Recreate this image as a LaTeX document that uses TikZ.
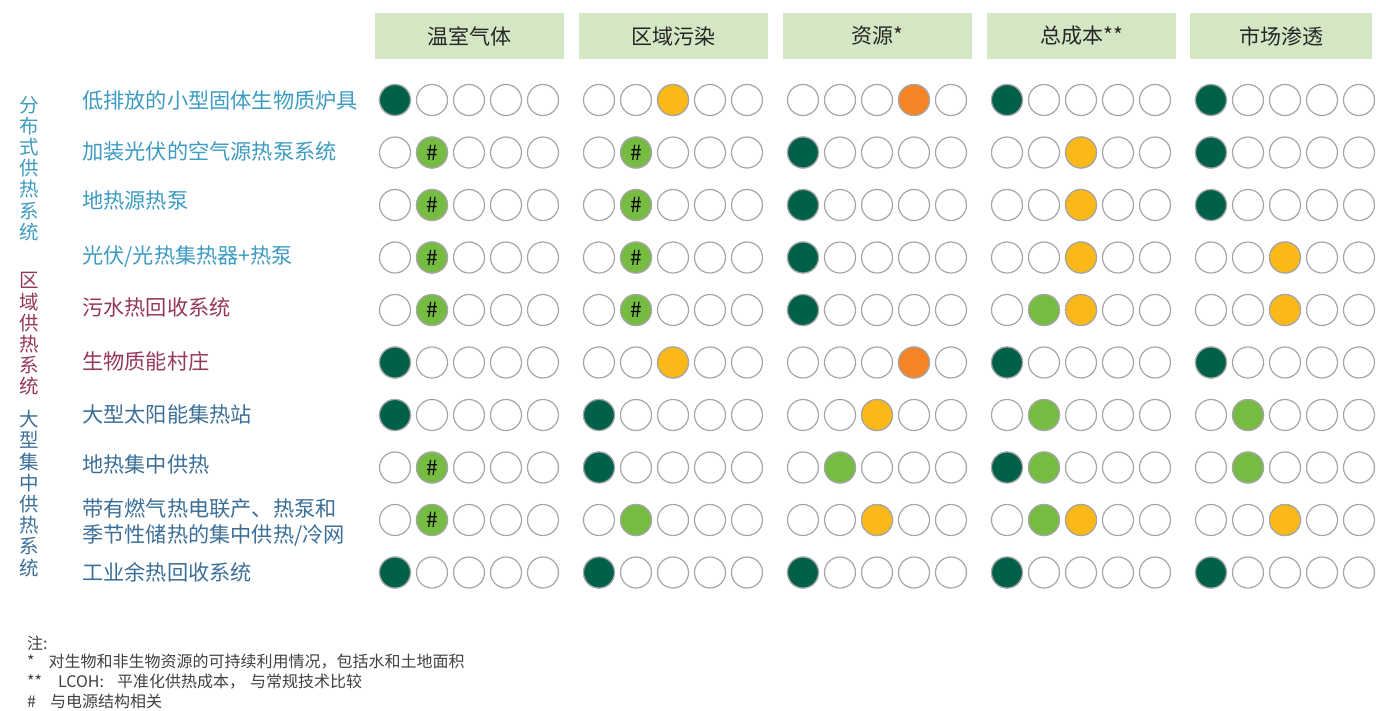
\documentclass[tikz,border=0pt]{standalone}
\usepackage{fontspec}
\setmainfont{Noto Sans CJK SC}
\usepackage{tikz}
\usetikzlibrary{calc}

\definecolor{dkgreen}{HTML}{00604A}
\definecolor{ltgreen}{HTML}{76BC43}
\definecolor{amber}{HTML}{FBB919}
\definecolor{tangerine}{HTML}{F58426}
\definecolor{headfill}{HTML}{D3E7C5}
\definecolor{ringgray}{HTML}{A6A6A6}
\definecolor{distblue}{HTML}{3D9BC2}
\definecolor{distred}{HTML}{96375C}
\definecolor{bigblue}{HTML}{3C6F98}
\definecolor{notegray}{HTML}{404040}

\tikzset{
  dot/.style={circle, draw=ringgray, line width=1.2pt, fill=white, minimum size=31pt, inner sep=0pt},
  dk/.style={dot, fill=dkgreen},
  lg/.style={dot, fill=ltgreen},
  lh/.style={dot, fill=ltgreen, label={[inner sep=0pt, font=\fontsize{21}{21}\selectfont]center:\#}},
  yl/.style={dot, fill=amber},
  og/.style={dot, fill=tangerine},
  head/.style={fill=headfill, minimum width=189pt, minimum height=46pt, inner sep=0pt,
    font=\fontsize{21}{21}\selectfont, text=black!85},
  tech/.style={anchor=west, align=left, inner sep=0pt, font=\fontsize{21.2}{26}\selectfont},
  group/.style={align=center, inner sep=0pt, font=\fontsize{19.5}{21.2}\selectfont},
  note/.style={anchor=west, inner sep=0pt, text=notegray, font=\fontsize{16}{16}\selectfont}
}

\begin{document}
\begin{tikzpicture}[x=1pt, y=-1pt]
    \useasboundingbox (0,0) rectangle (1376,710);
    % column heads
    \node[head] (h1) at (469,36) {温室气体};
    \node[head] (h2) at (673.5,36) {区域污染};
    \node[head] (h3) at (877.5,36) {资源*};
    \node[head] (h4) at (1081.5,36) {总成本**};
    \node[head, minimum width=182pt] (h5) at (1281,36) {市场渗透};
    % system groups, written top to bottom
    \node[group, text=distblue] (g1) at (29,168.5) {分\\布\\式\\供\\热\\系\\统};
    \node[group, text=distred] (g2) at (29,334) {区\\域\\供\\热\\系\\统};
    \node[group, text=bigblue] (g3) at (29,493.5) {大\\型\\集\\中\\供\\热\\系\\统};
    % technologies
    \node[tech, text=distblue] (t1) at (82,100) {低排放的小型固体生物质炉具};
    \node[tech, text=distblue] (t2) at (82,151) {加装光伏的空气源热泵系统};
    \node[tech, text=distblue] (t3) at (82,200) {地热源热泵};
    \node[tech, text=distblue] (t4) at (82,256) {光伏/光热集热器+热泵};
    \node[tech, text=distred] (t5) at (82,307) {污水热回收系统};
    \node[tech, text=distred] (t6) at (82,361) {生物质能村庄};
    \node[tech, text=bigblue] (t7) at (82,414) {大型太阳能集热站};
    \node[tech, text=bigblue] (t8) at (82,464) {地热集中供热};
    \node[tech, text=bigblue] (t9) at (82,522) {带有燃气热电联产、热泵和\\季节性储热的集中供热/冷网};
    \node[tech, text=bigblue] (t10) at (82,572) {工业余热回收系统};
    % empty rating rings: row, column group, position
    \foreach \r in {1,...,10}{%
      \foreach \g in {1,...,5}{%
        \foreach \p in {1,...,5}
          \node[dot] (c-\r-\g-\p) at ({395+204*(\g-1)+37*(\p-1)},{100+52.5*(\r-1)}) {};}}
    % filled ratings
    \foreach \r/\row in {1/{1/1/dk,2/3/yl,3/4/og,4/1/dk,5/1/dk},
                         2/{1/2/lh,2/2/lh,3/1/dk,4/3/yl,5/1/dk},
                         3/{1/2/lh,2/2/lh,3/1/dk,4/3/yl,5/1/dk},
                         4/{1/2/lh,2/2/lh,3/1/dk,4/3/yl,5/3/yl},
                         5/{1/2/lh,2/2/lh,3/1/dk,4/2/lg,4/3/yl,5/3/yl},
                         6/{1/1/dk,2/3/yl,3/4/og,4/1/dk,5/1/dk},
                         7/{1/1/dk,2/1/dk,3/3/yl,4/2/lg,5/2/lg},
                         8/{1/2/lh,2/1/dk,3/2/lg,4/1/dk,4/2/lg,5/2/lg},
                         9/{1/2/lh,2/2/lg,3/3/yl,4/2/lg,4/3/yl,5/3/yl},
                         10/{1/1/dk,2/1/dk,3/1/dk,4/1/dk,5/1/dk}}{%
      \foreach \g/\p/\c in \row
        \node[\c] (f-\r-\g-\p) at (c-\r-\g-\p) {};}
    % notes
    \node[note] (n0) at (27,643) {注:};
    \node[note] (n1) at (27,662) {*\hspace{14pt}对生物和非生物资源的可持续利用情况，包括水和土地面积};
    \node[note] (n2) at (27,682) {**\hspace{16pt}LCOH:\hspace{13pt}平准化供热成本，\hspace{5pt}与常规技术比较};
    \node[note] (n3) at (27,701) {\#\hspace{14pt}与电源结构相关};
\end{tikzpicture}
\end{document}
